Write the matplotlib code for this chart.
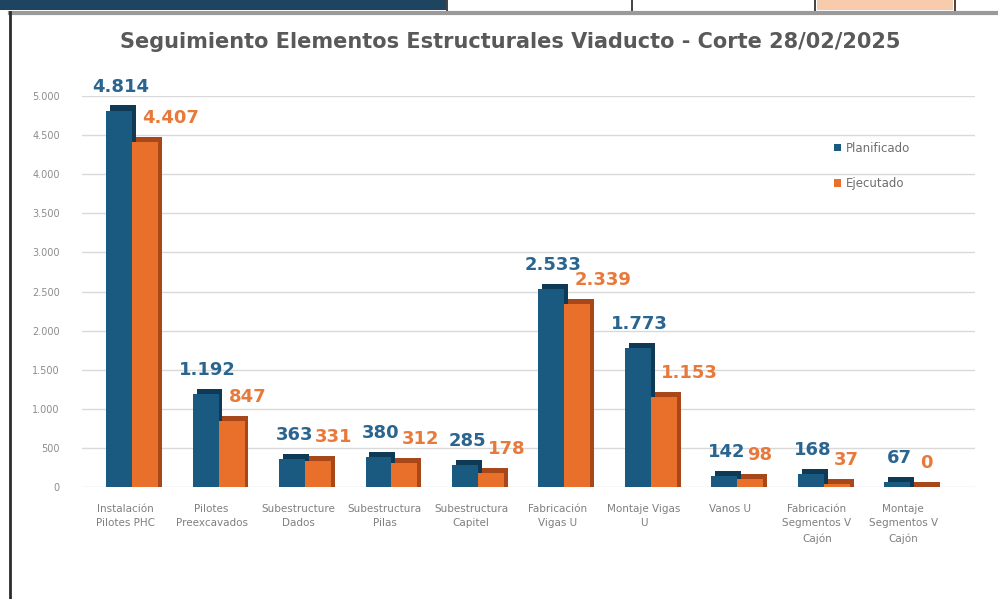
import matplotlib.pyplot as plt
import numpy as np
from matplotlib.patches import Rectangle
from matplotlib.lines import Line2D

# datos
categorias = [
    "Instalación\nPilotes PHC",
    "Pilotes\nPreexcavados",
    "Subestructure\nDados",
    "Subestructura\nPilas",
    "Subestructura\nCapitel",
    "Fabricación\nVigas U",
    "Montaje Vigas\nU",
    "Vanos U",
    "Fabricación\nSegmentos V\nCajón",
    "Montaje\nSegmentos V\nCajón",
]
planificado = [4814, 1192, 363, 380, 285, 2533, 1773, 142, 168, 67]
ejecutado = [4407, 847, 331, 312, 178, 2339, 1153, 98, 37, 0]
yticks = [0, 500, 1000, 1500, 2000, 2500, 3000, 3500, 4000, 4500, 5000]
titulo = "Seguimiento Elementos Estructurales Viaducto - Corte 28/02/2025"

AZUL, AZUL_OSC, AZUL_TXT = "#1A5A80", "#0E3A56", "#2A6590"
NARANJA, NARANJA_OSC, NARANJA_TXT = "#E8702A", "#A8481A", "#E8793A"
GRIS = "#7F7F7F"


def fmt(v):
    return f"{v:,}".replace(",", ".")


fig = plt.figure(figsize=(9.98, 5.99), dpi=100)
W, H = 998, 599

# marco de la captura (hoja de calculo detras)
fig.patches.append(Rectangle((0, 1 - 10 / H), 446 / W, 10 / H, transform=fig.transFigure,
                             facecolor="#1E4460", edgecolor="none"))
fig.patches.append(Rectangle((817 / W, 1 - 10 / H), 136 / W, 10 / H, transform=fig.transFigure,
                             facecolor="#F8CBAD", edgecolor="none"))
for xp in [447, 632, 815, 955]:
    fig.lines.append(Line2D([xp / W, xp / W], [1 - 11 / H, 1], transform=fig.transFigure,
                            color="#222222", lw=1.2))
fig.lines.append(Line2D([10 / W, 1], [1 - 13 / H, 1 - 13 / H], transform=fig.transFigure,
                        color="#9A9A9A", lw=3))
fig.lines.append(Line2D([10 / W, 10 / W], [0, 1 - 12 / H], transform=fig.transFigure,
                        color="#2B2B2B", lw=2))

ax = fig.add_axes([82 / W, 1 - 487 / H, (975 - 82) / W, (487 - 96) / H])
x = np.arange(len(categorias))
ancho = 0.3
xa = x - 0.07
xn = x + 0.23
prof_x, prof_y = 0.045, 65

# efecto 3D: cara trasera oscura desplazada
ax.bar(xa + prof_x, np.array(planificado) + prof_y, ancho, color=AZUL_OSC, zorder=2)
ax.bar(xa, planificado, ancho, color=AZUL, zorder=3, label="Planificado")
ax.bar(xn + prof_x, np.array(ejecutado) + prof_y, ancho, color=NARANJA_OSC, zorder=4)
ax.bar(xn, ejecutado, ancho, color=NARANJA, zorder=5, label="Ejecutado")

for i in range(len(categorias)):
    ax.annotate(fmt(planificado[i]), (xa[i], planificado[i]), xytext=(2, 19),
                textcoords="offset pixels", ha="center", va="baseline",
                fontsize=13, fontweight="bold", color=AZUL_TXT, zorder=6)
    ax.annotate(fmt(ejecutado[i]), (xn[i], ejecutado[i]), xytext=(-3, 19),
                textcoords="offset pixels", ha="left", va="baseline",
                fontsize=13, fontweight="bold", color=NARANJA_TXT, zorder=6)

ax.set_ylim(0, 5000)
ax.set_xlim(-0.5, 9.83)
ax.set_yticks(yticks)
ax.set_yticklabels([fmt(v) for v in yticks], fontsize=7, color="#8C8C8C")
ax.set_xticks(x)
ax.set_xticklabels(categorias, fontsize=7.5, color=GRIS, linespacing=1.6, va="top")
ax.tick_params(length=0)
ax.tick_params(axis="y", pad=16)
ax.tick_params(axis="x", pad=12)
ax.grid(axis="y", color="#D9D9D9", lw=1, zorder=0)
for s in ax.spines.values():
    s.set_visible(False)

leg = ax.legend(loc="upper left", bbox_to_anchor=(0.83, 0.91), frameon=False,
                fontsize=8.5, handlelength=0.6, handleheight=0.6, handletextpad=0.4,
                labelspacing=1.9, labelcolor="#6E6E6E")

fig.text(510 / W, 1 - 42 / H, titulo, ha="center", va="center", fontsize=15,
         fontweight="bold", color="#595959")

fig.savefig("out.png", dpi=100)
